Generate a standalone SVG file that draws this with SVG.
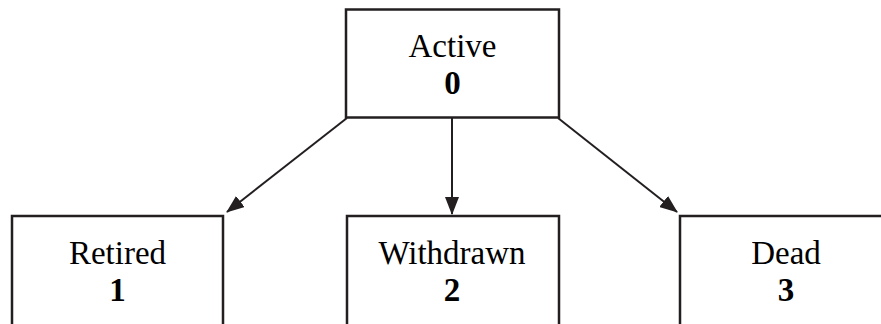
<svg xmlns="http://www.w3.org/2000/svg" width="881" height="324" viewBox="0 0 881 324">
<style>
.box{fill:#fff;stroke:#231f20;stroke-width:2.5}
.lbl{font-family:"Liberation Serif","Times New Roman",serif;font-size:33px;fill:#000;text-anchor:middle}
.num{font-weight:bold}
.edge{stroke:#231f20;stroke-width:2;fill:none;marker-end:url(#ah)}
</style>
<defs>
<marker id="ah" markerWidth="18" markerHeight="14" refX="17" refY="7" orient="auto" markerUnits="userSpaceOnUse" viewBox="0 0 18 14">
<path d="M0,0 L18,7 L0,14 z" fill="#231f20"/>
</marker>
</defs>
<rect width="881" height="324" fill="#fff"/>
<g id="connectors">
<line class="edge" x1="347" y1="118" x2="227" y2="212"/>
<line class="edge" x1="452" y1="118" x2="452" y2="214"/>
<line class="edge" x1="558" y1="118" x2="677" y2="212"/>
</g>
<g id="active">
<rect class="box" x="346" y="9.5" width="213" height="108"/>
<text class="lbl" x="452.5" y="57">Active</text>
<text class="lbl num" x="452.5" y="94">0</text>
</g>
<g id="retired">
<rect class="box" x="12" y="216" width="211" height="120"/>
<text class="lbl" x="117.5" y="264">Retired</text>
<text class="lbl num" x="117.5" y="301">1</text>
</g>
<g id="withdrawn">
<rect class="box" x="347" y="216" width="212" height="120"/>
<text class="lbl" x="452" y="264">Withdrawn</text>
<text class="lbl num" x="452" y="301">2</text>
</g>
<g id="dead">
<rect class="box" x="680" y="216" width="213" height="120"/>
<text class="lbl" x="786" y="264">Dead</text>
<text class="lbl num" x="786" y="301">3</text>
</g>
</svg>
